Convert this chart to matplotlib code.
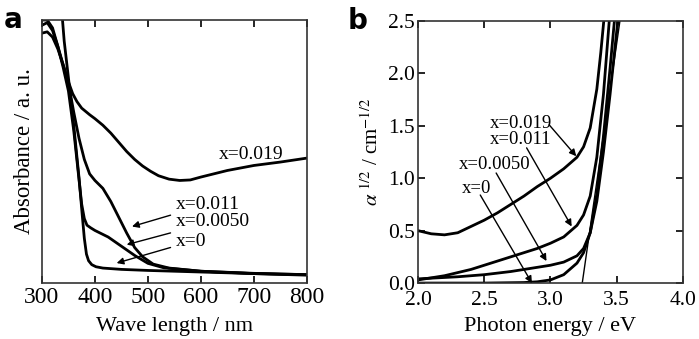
import matplotlib
matplotlib.use("Agg")
import matplotlib.pyplot as plt

plt.rcParams['font.family'] = ['Liberation Serif', 'DejaVu Serif']
plt.rcParams['mathtext.fontset'] = 'stix'

# ---- Panel a data: wavelength (nm) vs absorbance (a.u.) ----
wl_019 = [300, 310, 320, 330, 340, 350, 358, 366, 375, 390, 400, 415, 430, 445, 460, 475, 490, 505, 520, 540, 560, 580, 600, 650, 700, 750, 800]
ab_019 = [0.95, 0.955, 0.935, 0.89, 0.83, 0.765, 0.72, 0.69, 0.665, 0.64, 0.625, 0.60, 0.57, 0.535, 0.50, 0.47, 0.445, 0.425, 0.408, 0.395, 0.39, 0.392, 0.403, 0.428, 0.447, 0.46, 0.475]

wl_011 = [300, 310, 320, 330, 340, 350, 360, 370, 380, 390, 400, 415, 430, 445, 460, 475, 490, 510, 540, 600, 700, 800]
ab_011 = [0.98, 0.99, 0.96, 0.90, 0.83, 0.76, 0.65, 0.55, 0.47, 0.415, 0.39, 0.36, 0.31, 0.25, 0.19, 0.135, 0.10, 0.072, 0.057, 0.045, 0.037, 0.032]

wl_005 = [300, 310, 320, 330, 340, 350, 360, 368, 375, 380, 385, 392, 400, 425, 450, 475, 500, 530, 600, 700, 800]
ab_005 = [1.0, 1.0, 0.97, 0.90, 0.82, 0.73, 0.58, 0.43, 0.30, 0.245, 0.22, 0.21, 0.20, 0.175, 0.14, 0.105, 0.075, 0.058, 0.045, 0.036, 0.030]

wl_0 = [336, 338, 342, 350, 360, 370, 376, 380, 384, 388, 394, 402, 415, 450, 500, 600, 700, 800]
ab_0 = [1.1, 1.02, 0.92, 0.78, 0.60, 0.40, 0.26, 0.17, 0.11, 0.085, 0.07, 0.062, 0.057, 0.052, 0.048, 0.042, 0.036, 0.032]

# ---- Panel b data: photon energy (eV) vs alpha^1/2 ----
e_019 = [2.0, 2.1, 2.2, 2.3, 2.4, 2.5, 2.6, 2.7, 2.8, 2.9, 3.0, 3.1, 3.2, 3.25, 3.3, 3.35, 3.38, 3.41]
a_019 = [0.5, 0.47, 0.46, 0.48, 0.54, 0.6, 0.67, 0.75, 0.83, 0.92, 1.0, 1.09, 1.2, 1.3, 1.48, 1.85, 2.2, 2.6]

e_011 = [2.0, 2.2, 2.4, 2.5, 2.6, 2.7, 2.8, 2.9, 3.0, 3.1, 3.2, 3.25, 3.3, 3.35, 3.4, 3.45]
a_011 = [0.03, 0.07, 0.13, 0.17, 0.21, 0.25, 0.29, 0.33, 0.38, 0.44, 0.55, 0.65, 0.83, 1.2, 1.8, 2.6]

e_005 = [2.0, 2.3, 2.5, 2.7, 2.9, 3.0, 3.1, 3.2, 3.25, 3.3, 3.35, 3.4, 3.45, 3.49]
a_005 = [0.04, 0.06, 0.08, 0.11, 0.15, 0.17, 0.2, 0.26, 0.33, 0.48, 0.85, 1.4, 2.05, 2.6]

e_0 = [2.0, 2.5, 2.8, 2.9, 3.0, 3.1, 3.2, 3.25, 3.3, 3.35, 3.4, 3.45, 3.5, 3.52]
a_0 = [0.0, 0.0, 0.005, 0.012, 0.03, 0.08, 0.19, 0.29, 0.48, 0.78, 1.25, 1.8, 2.4, 2.6]

e_tan = [3.24, 3.53]
a_tan = [0.0, 2.55]

labels = ['x=0.019', 'x=0.011', 'x=0.0050', 'x=0']

fig = plt.figure(figsize=(6.99, 3.39), dpi=100)
axa = fig.add_axes([0.060, 0.165, 0.379, 0.776])
axb = fig.add_axes([0.598, 0.165, 0.379, 0.773])

lw = 2.0
for ax in (axa, axb):
    for s in ax.spines.values():
        s.set_linewidth(1.2)
        s.set_color('#333333')

# Panel a
for x, y in [(wl_019, ab_019), (wl_011, ab_011), (wl_005, ab_005), (wl_0, ab_0)]:
    axa.plot(x, y, color='black', lw=lw)
axa.set_xlim(300, 800)
axa.set_ylim(0, 1.0)
axa.set_xticks([300, 400, 500, 600, 700, 800])
axa.set_yticks([])
axa.tick_params(axis='x', direction='in', top=True, length=5, width=1.2, labelsize=17, pad=3)
axa.set_xlabel('Wave length / nm', fontsize=16, labelpad=6)
axa.set_ylabel('Absorbance / a. u.', fontsize=16.5, labelpad=5)
axa.text(-0.145, 1.0, 'a', transform=axa.transAxes, fontsize=20, fontweight='bold',
         family='DejaVu Sans', va='center', ha='left')

axa.text(633, 0.487, labels[0], fontsize=14, va='center', ha='left')
ann_a = [(labels[1], (553, 0.30), (470, 0.215)),
         (labels[2], (553, 0.234), (460, 0.146)),
         (labels[3], (553, 0.158), (441, 0.076))]
for t, xyt, xy in ann_a:
    axa.annotate(t, xy=xy, xytext=xyt, fontsize=14, va='center', ha='left',
                 arrowprops=dict(arrowstyle='-|>', color='black', lw=1.0, mutation_scale=10,
                                 shrinkA=2, shrinkB=0))

# Panel b
for x, y in [(e_019, a_019), (e_011, a_011), (e_005, a_005), (e_0, a_0)]:
    axb.plot(x, y, color='black', lw=lw)
axb.plot(e_tan, a_tan, color='black', lw=1.0)
axb.set_xlim(2.0, 4.0)
axb.set_ylim(0, 2.5)
axb.set_xticks([2.0, 2.5, 3.0, 3.5, 4.0])
axb.set_yticks([0.0, 0.5, 1.0, 1.5, 2.0, 2.5])
axb.set_xticklabels(['2.0', '2.5', '3.0', '3.5', '4.0'])
axb.set_yticklabels(['0.0', '0.5', '1.0', '1.5', '2.0', '2.5'])
axb.tick_params(axis='both', direction='in', top=True, right=True, length=5, width=1.2, labelsize=15.5)
axb.tick_params(axis='x', pad=6)
axb.tick_params(axis='y', pad=2)
axb.set_xlabel('Photon energy / eV', fontsize=16, labelpad=5)
axb.set_ylabel(r'$\alpha^{\ 1/2}$ / cm$^{-1/2}$', fontsize=15, labelpad=4)
axb.text(-0.265, 1.0, 'b', transform=axb.transAxes, fontsize=20, fontweight='bold',
         family='DejaVu Sans', va='center', ha='left')

ann_b = [(labels[0], (2.54, 1.52), (2.99, 1.51), (3.195, 1.21)),
         (labels[1], (2.54, 1.365), (2.82, 1.29), (3.16, 0.54)),
         (labels[2], (2.31, 1.13), (2.59, 1.05), (2.97, 0.21)),
         (labels[3], (2.33, 0.905), (2.47, 0.84), (2.86, 0.0))]
for t, tpos, start, end in ann_b:
    axb.text(tpos[0], tpos[1], t, fontsize=13.5, va='center', ha='left')
    axb.annotate('', xy=end, xytext=start,
                 arrowprops=dict(arrowstyle='-|>', color='black', lw=1.0, mutation_scale=10,
                                 shrinkA=0, shrinkB=0))

fig.savefig('out.png', dpi=100)
